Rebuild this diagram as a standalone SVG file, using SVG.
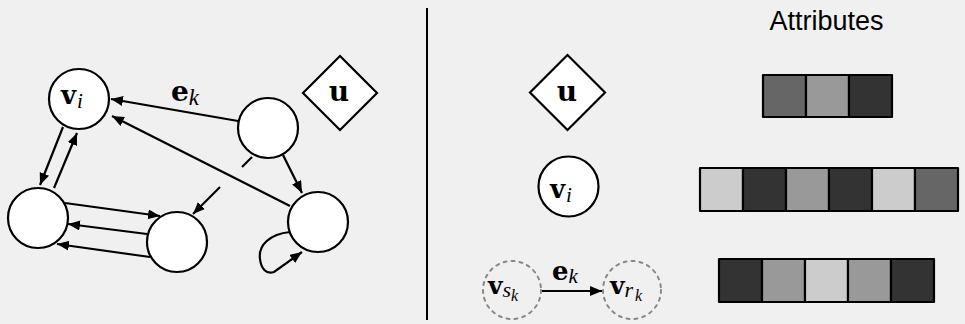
<svg xmlns="http://www.w3.org/2000/svg" width="965" height="324" viewBox="0 0 965 324">
<style>
.bg{fill:#f0f0f0}
.node{fill:#fff;stroke:#000;stroke-width:2.2}
.dash{fill:none;stroke:#888;stroke-width:2;stroke-dasharray:3 5;stroke-linecap:round}
.edge{fill:none;stroke:#000;stroke-width:2.2}
.arr{marker-end:url(#ah)}
.m{font-family:"DejaVu Serif","Liberation Serif",serif;font-weight:bold;fill:#000}
.sub{font-family:"Liberation Serif","DejaVu Serif",serif;font-style:italic;font-weight:normal;fill:#000}
.cell{stroke:#000;stroke-width:2.2;stroke-linejoin:round}
.lbl{font-family:"Liberation Sans",Arial,sans-serif;font-size:27px;fill:#000}
</style>
<defs>
<marker id="ah" markerUnits="userSpaceOnUse" markerWidth="13" markerHeight="11" refX="12" refY="5" orient="auto">
<path d="M0,0 L12,5 L0,10 z" fill="#000"/>
</marker>
</defs>
<rect class="bg" x="0" y="0" width="965" height="324"/>
<line x1="427" y1="8" x2="427" y2="320" stroke="#000" stroke-width="2"/>

<g id="connectors">
<line class="edge arr" x1="238" y1="121" x2="111" y2="99"/>
<line class="edge arr" x1="290" y1="206" x2="112" y2="116"/>
<line class="edge arr" x1="63" y1="127" x2="40" y2="185"/>
<line class="edge arr" x1="54" y1="188" x2="77" y2="133"/>
<line class="edge arr" x1="65" y1="203" x2="160" y2="216"/>
<line class="edge arr" x1="147" y1="234" x2="68" y2="224"/>
<line class="edge arr" x1="150" y1="257" x2="57" y2="244"/>
<line class="edge arr" x1="220" y1="187" x2="193" y2="214"/>
<line class="edge" x1="242" y1="167" x2="252" y2="157"/>
<line class="edge arr" x1="283" y1="155" x2="302" y2="193"/>
<path class="edge arr" d="M290,232 C270,234 258,245 260,259 C261,268 266,275 274,272 L302,252"/>
<line class="edge arr" x1="542" y1="291" x2="602" y2="291"/>
</g>

<g id="node-vi">
<circle class="node" cx="79" cy="99" r="30"/>
<text class="m" x="61" y="104" font-size="26">v<tspan class="sub" font-size="21" dx="1" dy="4">i</tspan></text>
</g>
<g id="node-tr"><circle class="node" cx="268" cy="128" r="30"/></g>
<g id="node-l"><circle class="node" cx="38" cy="218" r="30"/></g>
<g id="node-m"><circle class="node" cx="177" cy="242" r="30"/></g>
<g id="node-br"><circle class="node" cx="318" cy="222" r="30"/></g>
<g id="node-u">
<polygon class="node" points="340,56 377,93 340,130 303,93"/>
<text class="m" x="339" y="101" font-size="28" text-anchor="middle">u</text>
</g>
<g id="label-ek">
<text class="m" x="171" y="101" font-size="28">e<tspan class="sub" font-size="23" dy="4">k</tspan></text>
</g>

<g id="legend-u">
<polygon class="node" points="567.5,55 605,92.5 567.5,130 530,92.5"/>
<text class="m" x="567" y="101" font-size="28" text-anchor="middle">u</text>
</g>
<g id="legend-vi">
<circle class="node" cx="568.5" cy="186.5" r="30"/>
<text class="m" x="550" y="198" font-size="26">v<tspan class="sub" font-size="21" dx="1" dy="4">i</tspan></text>
</g>
<g id="legend-vs">
<circle class="dash" cx="512" cy="290" r="29"/>
<text class="m" x="488" y="294" font-size="25">v<tspan class="sub" font-size="22" dy="3">s</tspan><tspan class="sub" font-size="16" dy="4">k</tspan></text>
</g>
<g id="legend-vr">
<circle class="dash" cx="632" cy="290" r="29"/>
<text class="m" x="610" y="294" font-size="25">v<tspan class="sub" font-size="22" dy="3">r</tspan><tspan class="sub" font-size="16" dx="2" dy="4">k</tspan></text>
</g>
<g id="legend-ek">
<text class="m" x="552" y="280" font-size="26">e<tspan class="sub" font-size="21" dy="3">k</tspan></text>
</g>

<g id="attributes">
<text class="lbl" x="826.5" y="30" text-anchor="middle">Attributes</text>
<g id="attr-u">
<rect class="cell" x="763" y="75" width="43" height="42" fill="#666"/>
<rect class="cell" x="806" y="75" width="43" height="42" fill="#999"/>
<rect class="cell" x="849" y="75" width="43" height="42" fill="#333"/>
</g>
<g id="attr-v">
<rect class="cell" x="700" y="168" width="43" height="43" fill="#ccc"/>
<rect class="cell" x="743" y="168" width="43" height="43" fill="#333"/>
<rect class="cell" x="786" y="168" width="43" height="43" fill="#999"/>
<rect class="cell" x="829" y="168" width="43" height="43" fill="#333"/>
<rect class="cell" x="872" y="168" width="43" height="43" fill="#ccc"/>
<rect class="cell" x="915" y="168" width="43" height="43" fill="#666"/>
</g>
<g id="attr-e">
<rect class="cell" x="719" y="259" width="43" height="43" fill="#333"/>
<rect class="cell" x="762" y="259" width="43" height="43" fill="#999"/>
<rect class="cell" x="805" y="259" width="43" height="43" fill="#ccc"/>
<rect class="cell" x="848" y="259" width="43" height="43" fill="#999"/>
<rect class="cell" x="891" y="259" width="43" height="43" fill="#333"/>
</g>
</g>
</svg>
